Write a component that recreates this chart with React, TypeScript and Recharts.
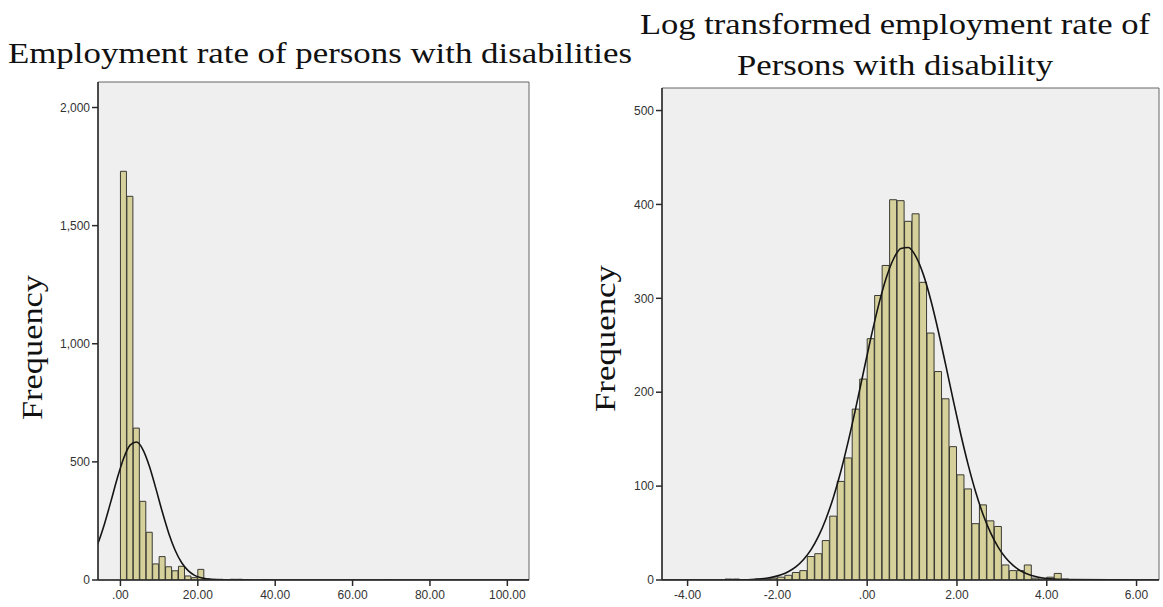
import React from "react";
import {
  ComposedChart,
  Bar,
  Line,
  XAxis,
  YAxis,
  CartesianGrid,
  ReferenceArea,
} from "recharts";

// ---------- Left histogram: Employment rate of persons with disabilities ----------
const LEFT_BIN_WIDTH = 5 / 3;
// counts for bins starting at 0 (bin i covers [i*w, (i+1)*w])
const leftBinCounts = [
  1730, 1624, 643, 333, 202, 68, 99, 56, 39, 58, 17, 10, 45, 5, 3, 3, 2, 3, 3, 2,
  0, 0, 2, 0, 0, 0, 0, 0, 0, 0, 0, 0, 0, 0, 0, 0, 0, 0, 0, 0, 0, 1,
];
// fitted normal curve, read at bin centres starting from bin index -5
const LEFT_CURVE_FIRST_BIN = -5;
const leftCurveValues = [
  93.5, 154.3, 235.1, 330.8, 429.8, 515.6, 571, 583.9, 551.3, 480.6, 386.8, 287.5,
  197.3, 125, 73.1, 39.5, 19.7, 9.1, 3.9, 1.5, 0.55, 0.2, 0.05,
];
const leftCurveTail: [number, number][] = [
  [62, 0],
  [63, 0],
];
const leftXTicks = [0, 20, 40, 60, 80, 100];
const leftYTicks = [0, 500, 1000, 1500, 2000];
const leftXDomain = [-5.8, 105.6];
const leftYMax = 2108;

// ---------- Right histogram: log transformed ----------
const RIGHT_BIN_WIDTH = 1 / 6;
const RIGHT_FIRST_BIN = -19; // bin k covers [k*w, (k+1)*w]
const rightBinCounts = [
  1, 1, 0, 0, 1, 1, 2, 3, 5, 8, 10, 25, 28, 42, 68, 105, 130, 182, 214, 257, 303,
  335, 405, 404, 382, 390, 317, 263, 222, 193, 142, 112, 97, 60, 80, 63, 57, 16, 10,
  10, 16, 2, 1, 3, 7, 1,
];
const rightCurveValues = [
  0.08, 0.16, 0.31, 0.59, 1.09, 1.93, 3.3, 5.6, 9.1, 14.3, 21.9, 32.4, 46.7, 65.3,
  88.5, 116.4, 148.7, 184.1, 221.3, 258.1, 292.0, 320.6, 341.6, 353.1, 354.1, 344.7,
  325.5, 298.2, 265.2, 228.8, 191.5, 155.5, 122.6, 93.7, 69.5, 50.1, 35.0, 23.7,
  15.6, 9.9, 6.2, 3.7, 2.2, 1.2, 0.67, 0.36,
];
const rightCurveHead: [number, number][] = [
  [-28, 0],
  [-27, 0],
];
const rightCurveTail: [number, number][] = [
  [38, 0],
  [39, 0],
];
const rightXTicks = [-4, -2, 0, 2, 4, 6];
const rightYTicks = [0, 100, 200, 300, 400, 500];
const rightXDomain = [-4.57, 6.5];
const rightYMax = 524;

// ---------- data tables ----------
const leftBars = leftBinCounts.map((c, i) => ({
  x: (i + 0.5) * LEFT_BIN_WIDTH,
  count: c,
}));
const leftCurve = [
  ...leftCurveValues.map((v, i) => ({
    x: (LEFT_CURVE_FIRST_BIN + i + 0.5) * LEFT_BIN_WIDTH,
    curve: v,
  })),
  ...leftCurveTail.map(([k, v]) => ({ x: (k + 0.5) * LEFT_BIN_WIDTH, curve: v })),
];

const rightBars = rightBinCounts.map((c, i) => ({
  x: (RIGHT_FIRST_BIN + i + 0.5) * RIGHT_BIN_WIDTH,
  count: c,
}));
const rightCurve = [
  ...rightCurveHead.map(([k, v]) => ({ x: (k + 0.5) * RIGHT_BIN_WIDTH, curve: v })),
  ...rightCurveValues.map((v, i) => ({
    x: (RIGHT_FIRST_BIN + i + 0.5) * RIGHT_BIN_WIDTH,
    curve: v,
  })),
  ...rightCurveTail.map(([k, v]) => ({ x: (k + 0.5) * RIGHT_BIN_WIDTH, curve: v })),
];

const fmtX = (v: number) => (v === 0 ? ".00" : v.toFixed(2));
const fmtY = (v: number) => v.toLocaleString("en-US");

const BAR_FILL = "#d6d19b";
const BAR_STROKE = "#3a3a34";
const AXIS = "#2a2a2a";
const tickStyle = { fill: "#333", fontSize: 12, fontFamily: "Liberation Sans, Arial, sans-serif" };
const serif = "'Liberation Serif', 'DejaVu Serif', serif";

function Histogram(props: {
  width: number;
  margin: { top: number; right: number; bottom: number; left: number };
  bars: { x: number; count: number }[];
  curve: { x: number; curve: number }[];
  xDomain: number[];
  yMax: number;
  xTicks: number[];
  yTicks: number[];
}) {
  const { width, margin, bars, curve, xDomain, yMax, xTicks, yTicks } = props;
  return (
    <ComposedChart
      width={width}
      height={607}
      data={bars}
      margin={margin}
      barCategoryGap={0}
      barGap={0}
    >
      <CartesianGrid fill="#efefef" horizontal={false} vertical={false} />
      <XAxis
        type="number"
        dataKey="x"
        domain={xDomain}
        allowDataOverflow
        ticks={xTicks}
        interval={0}
        tickFormatter={fmtX}
        tick={tickStyle}
        tickSize={6}
        tickMargin={4}
        height={27}
        axisLine={{ stroke: AXIS, strokeWidth: 1.5 }}
        tickLine={{ stroke: AXIS, strokeWidth: 1.5 }}
      />
      <YAxis
        type="number"
        domain={[0, yMax]}
        allowDataOverflow
        ticks={yTicks}
        interval={0}
        tickFormatter={fmtY}
        tick={tickStyle}
        tickSize={6}
        tickMargin={2}
        width={40}
        axisLine={{ stroke: AXIS, strokeWidth: 1.5 }}
        tickLine={{ stroke: AXIS, strokeWidth: 1.5 }}
      />
      <ReferenceArea
        x1={xDomain[0]}
        x2={xDomain[1]}
        y1={0}
        y2={yMax}
        fill="none"
        stroke="#666"
        strokeWidth={1}
        ifOverflow="visible"
      />
      <Bar
        dataKey="count"
        fill={BAR_FILL}
        stroke={BAR_STROKE}
        strokeWidth={1}
        isAnimationActive={false}
      />
      <Line
        data={curve}
        dataKey="curve"
        type="monotone"
        stroke="#151515"
        strokeWidth={1.6}
        dot={false}
        activeDot={false}
        isAnimationActive={false}
      />
    </ComposedChart>
  );
}

export default function App() {
  return (
    <div
      style={{
        position: "absolute",
        left: 0,
        top: 0,
        width: 1163,
        height: 607,
        background: "#fff",
        overflow: "hidden",
      }}
    >
      <div style={{ position: "absolute", left: 0, top: 0 }}>
        <Histogram
          width={540}
          margin={{ top: 82, right: 11, bottom: 0, left: 58 }}
          bars={leftBars}
          curve={leftCurve}
          xDomain={leftXDomain}
          yMax={leftYMax}
          xTicks={leftXTicks}
          yTicks={leftYTicks}
        />
      </div>
      <div style={{ position: "absolute", left: 600, top: 0 }}>
        <Histogram
          width={563}
          margin={{ top: 88, right: 4, bottom: 0, left: 22 }}
          bars={rightBars}
          curve={rightCurve}
          xDomain={rightXDomain}
          yMax={rightYMax}
          xTicks={rightXTicks}
          yTicks={rightYTicks}
        />
      </div>
      <svg
        width={1163}
        height={607}
        style={{ position: "absolute", left: 0, top: 0, pointerEvents: "none" }}
      >
        <g fontFamily={serif} fill="#111" fontSize={30}>
          <text x={8} y={63} textLength={624} lengthAdjust="spacingAndGlyphs">
            Employment rate of persons with disabilities
          </text>
          <text x={640} y={34} textLength={510} lengthAdjust="spacingAndGlyphs">
            Log transformed employment rate of
          </text>
          <text x={737} y={75} textLength={316} lengthAdjust="spacingAndGlyphs">
            Persons with disability
          </text>
          <text
            transform="translate(42,420) rotate(-90)"
            textLength={145}
            lengthAdjust="spacingAndGlyphs"
          >
            Frequency
          </text>
          <text
            transform="translate(615,412) rotate(-90)"
            textLength={147}
            lengthAdjust="spacingAndGlyphs"
          >
            Frequency
          </text>
        </g>
      </svg>
    </div>
  );
}
